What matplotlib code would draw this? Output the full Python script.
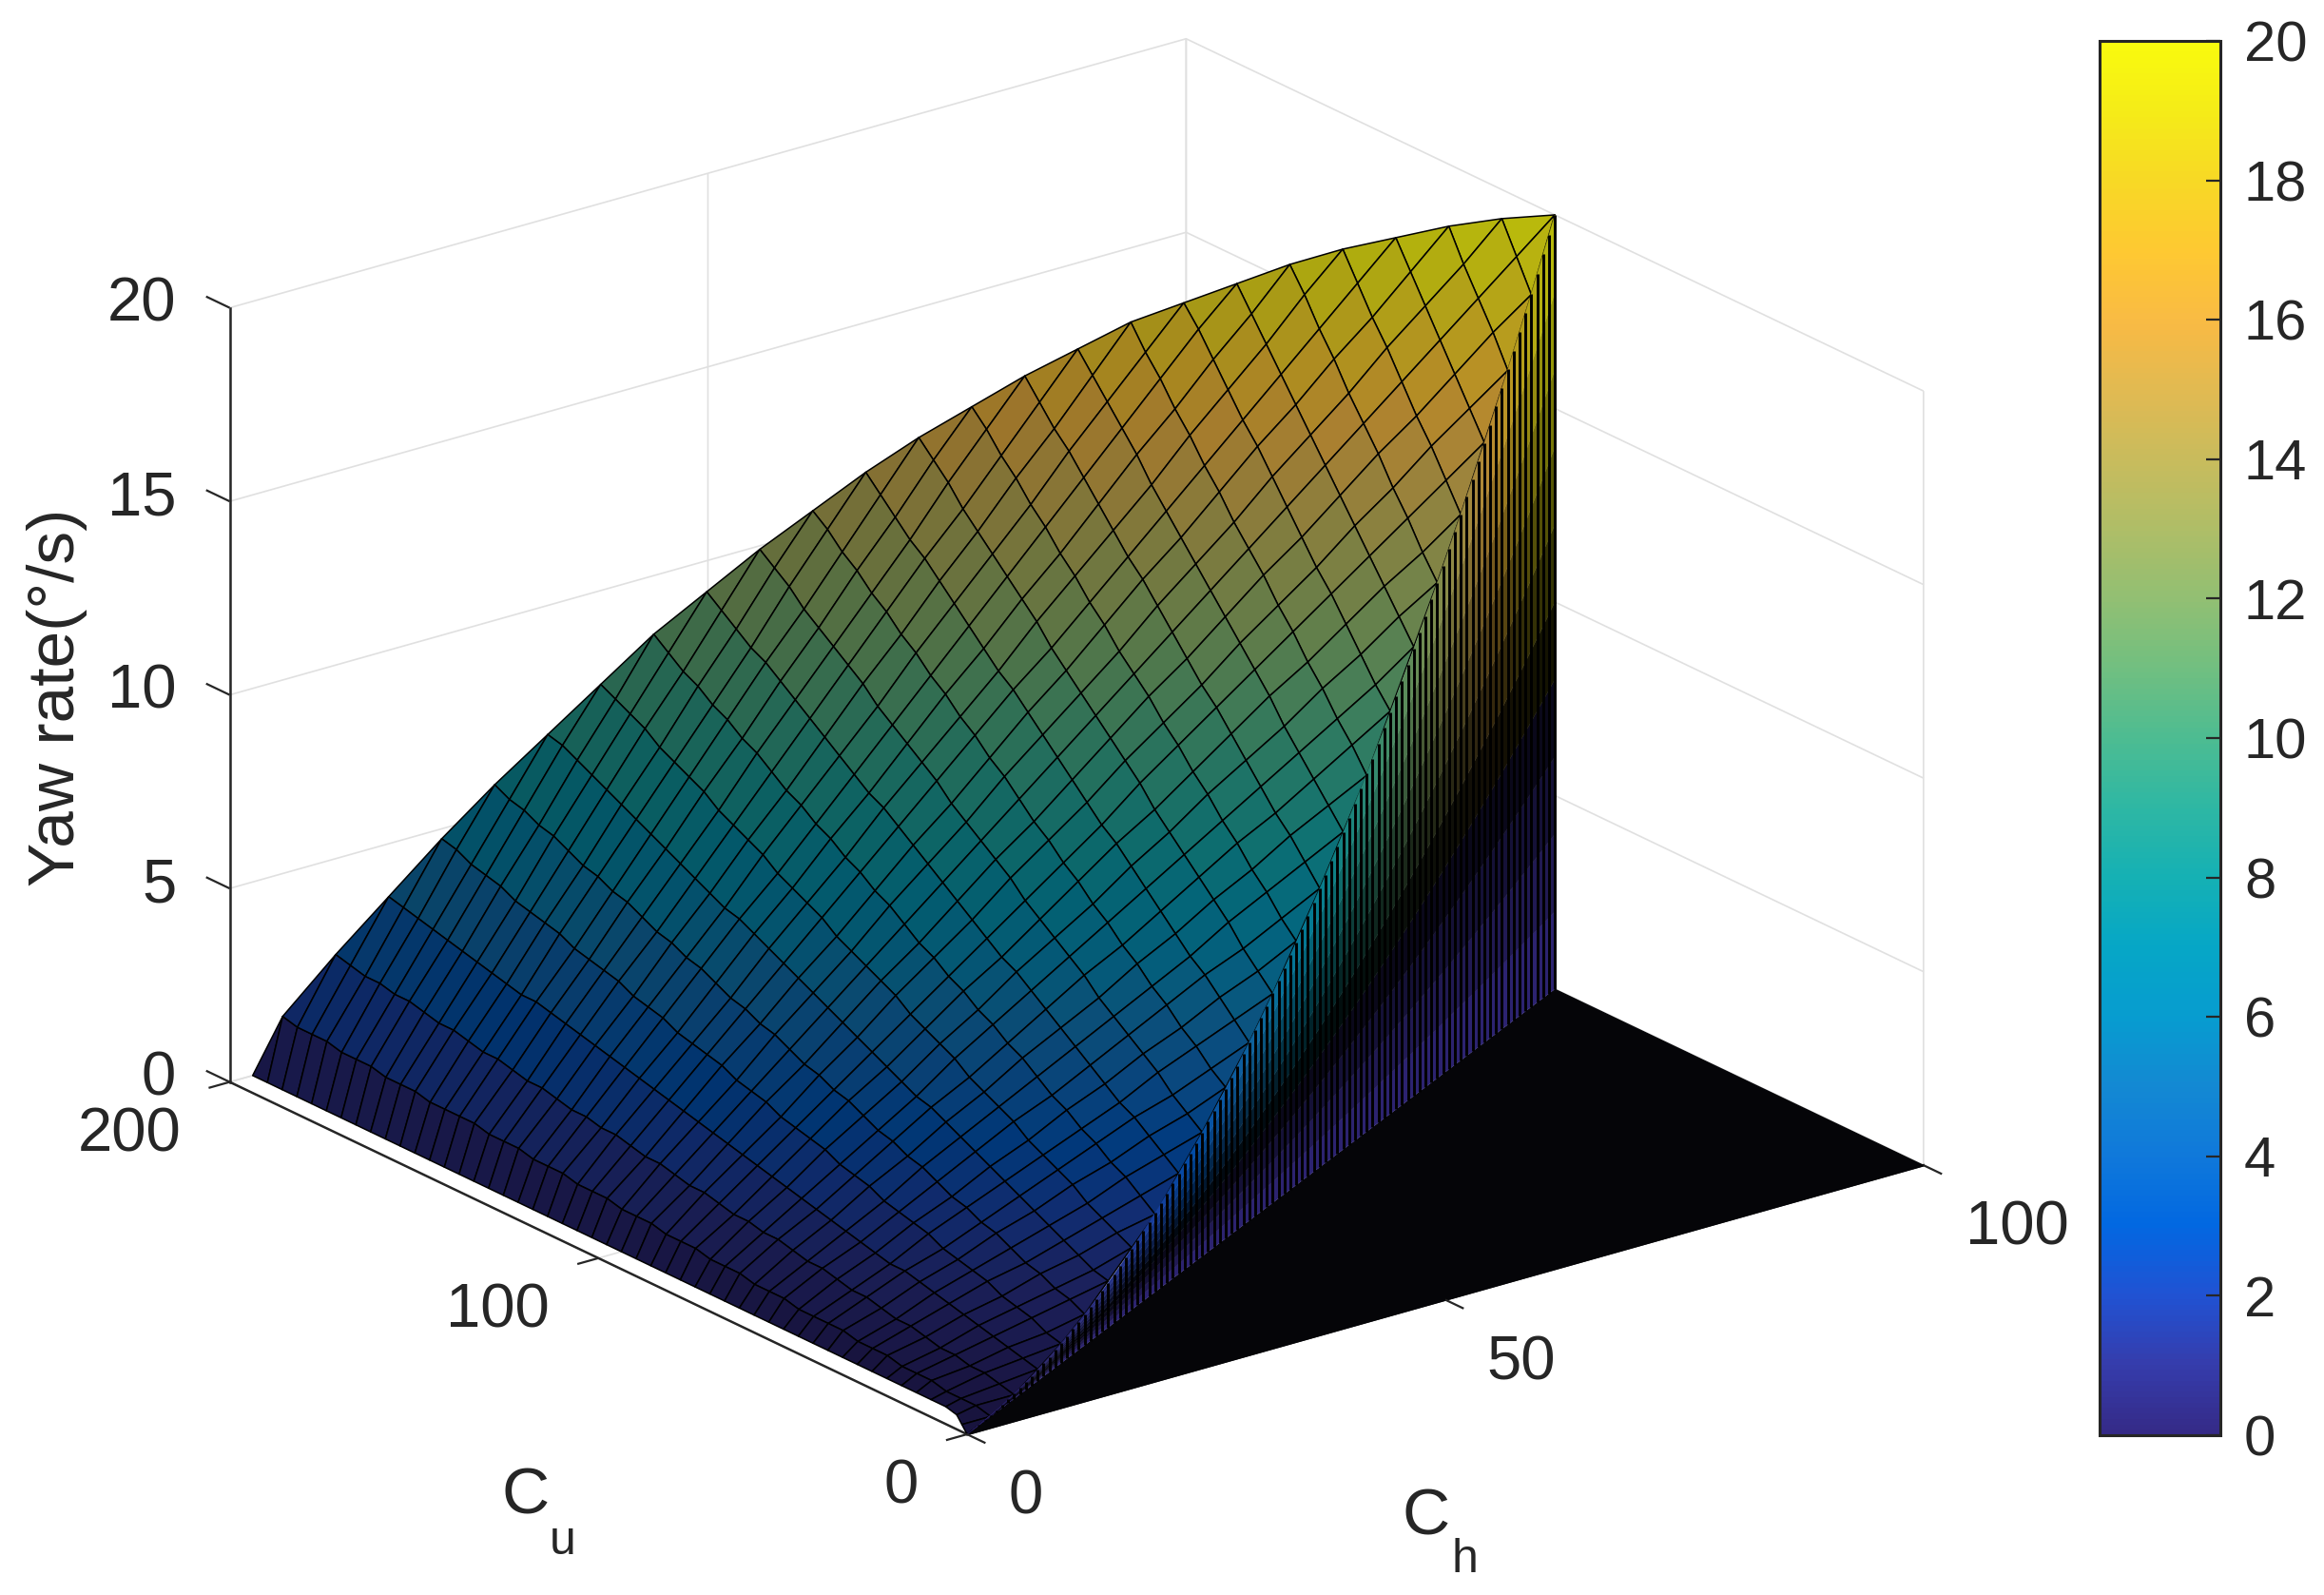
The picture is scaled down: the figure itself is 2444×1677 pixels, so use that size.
import matplotlib
matplotlib.use("Agg")
import matplotlib.pyplot as plt
from matplotlib.cm import ScalarMappable
from matplotlib.colors import LinearSegmentedColormap, Normalize
from mpl_toolkits.mplot3d import proj3d
from mpl_toolkits.mplot3d.art3d import Poly3DCollection, Line3DCollection

plt.rcParams["font.family"] = ["Liberation Sans", "DejaVu Sans"]

ch_ticks = [0, 50, 100]
cu_ticks = [0, 100, 200]
z_ticks = [0, 5, 10, 15, 20]
cbar_ticks = [0, 2, 4, 6, 8, 10, 12, 14, 16, 18, 20]

# Ch = 0, 4, ... 100 and Cu = 0, 4, ... 200, each row starts at Cu = Ch and stops at Cu = 200 - Ch
ch_values = list(range(0, 101, 4))
cu_values = list(range(0, 201, 4))
# the lowest row sits a little inside the Cu axis
edge_ch = [0, 1, 2] + [2.4] * 48
yaw_rows = [
    [0.0] * 51,
    [0.0, 0.1, 0.1, 0.1, 0.2, 0.2, 0.2, 0.3, 0.3, 0.3, 0.4, 0.4, 0.4, 0.4, 0.5, 0.5, 0.5, 0.6, 0.6, 0.6, 0.7, 0.7, 0.7, 0.8, 0.8, 0.8, 0.9, 0.9, 0.9, 1.0, 1.0, 1.0, 1.1, 1.1, 1.1, 1.2, 1.2, 1.2, 1.2, 1.3, 1.3, 1.3, 1.4, 1.4, 1.4, 1.5, 1.5, 1.5, 1.6],
    [0.1, 0.2, 0.3, 0.3, 0.4, 0.4, 0.5, 0.6, 0.6, 0.7, 0.8, 0.8, 0.9, 1.0, 1.0, 1.1, 1.2, 1.2, 1.3, 1.3, 1.4, 1.5, 1.5, 1.6, 1.7, 1.7, 1.8, 1.9, 1.9, 2.0, 2.0, 2.1, 2.2, 2.2, 2.3, 2.4, 2.4, 2.5, 2.6, 2.6, 2.7, 2.8, 2.8, 2.9, 2.9, 3.0, 3.1],
    [0.3, 0.4, 0.5, 0.6, 0.7, 0.8, 0.9, 1.0, 1.1, 1.2, 1.2, 1.3, 1.4, 1.5, 1.6, 1.7, 1.8, 1.9, 2.0, 2.1, 2.2, 2.3, 2.4, 2.5, 2.6, 2.7, 2.8, 2.9, 3.0, 3.1, 3.2, 3.3, 3.4, 3.5, 3.6, 3.6, 3.7, 3.8, 3.9, 4.0, 4.1, 4.2, 4.3, 4.4, 4.5],
    [0.5, 0.6, 0.8, 0.9, 1.0, 1.2, 1.3, 1.4, 1.5, 1.7, 1.8, 1.9, 2.0, 2.2, 2.3, 2.4, 2.6, 2.7, 2.8, 2.9, 3.1, 3.2, 3.3, 3.5, 3.6, 3.7, 3.8, 4.0, 4.1, 4.2, 4.4, 4.5, 4.6, 4.7, 4.9, 5.0, 5.1, 5.2, 5.4, 5.5, 5.6, 5.8, 5.9],
    [0.8, 1.0, 1.1, 1.3, 1.4, 1.6, 1.8, 1.9, 2.1, 2.2, 2.4, 2.6, 2.7, 2.9, 3.0, 3.2, 3.4, 3.5, 3.7, 3.8, 4.0, 4.2, 4.3, 4.5, 4.6, 4.8, 5.0, 5.1, 5.3, 5.4, 5.6, 5.8, 5.9, 6.1, 6.2, 6.4, 6.6, 6.7, 6.9, 7.0, 7.2],
    [1.2, 1.3, 1.5, 1.7, 1.9, 2.1, 2.3, 2.5, 2.7, 2.9, 3.1, 3.3, 3.5, 3.6, 3.8, 4.0, 4.2, 4.4, 4.6, 4.8, 5.0, 5.2, 5.4, 5.6, 5.8, 6.0, 6.1, 6.3, 6.5, 6.7, 6.9, 7.1, 7.3, 7.5, 7.7, 7.9, 8.1, 8.3, 8.4],
    [1.6, 1.8, 2.0, 2.2, 2.5, 2.7, 2.9, 3.1, 3.4, 3.6, 3.8, 4.0, 4.3, 4.5, 4.7, 4.9, 5.2, 5.4, 5.6, 5.8, 6.0, 6.3, 6.5, 6.7, 6.9, 7.2, 7.4, 7.6, 7.8, 8.1, 8.3, 8.5, 8.7, 9.0, 9.2, 9.4, 9.6],
    [2.0, 2.3, 2.6, 2.8, 3.1, 3.3, 3.6, 3.8, 4.1, 4.4, 4.6, 4.9, 5.1, 5.4, 5.6, 5.9, 6.1, 6.4, 6.7, 6.9, 7.2, 7.4, 7.7, 7.9, 8.2, 8.4, 8.7, 9.0, 9.2, 9.5, 9.7, 10.0, 10.2, 10.5, 10.8],
    [2.6, 2.9, 3.2, 3.5, 3.7, 4.0, 4.3, 4.6, 4.9, 5.2, 5.5, 5.8, 6.0, 6.3, 6.6, 6.9, 7.2, 7.5, 7.8, 8.1, 8.4, 8.6, 8.9, 9.2, 9.5, 9.8, 10.1, 10.4, 10.7, 10.9, 11.2, 11.5, 11.8],
    [3.2, 3.5, 3.8, 4.2, 4.5, 4.8, 5.1, 5.4, 5.8, 6.1, 6.4, 6.7, 7.0, 7.4, 7.7, 8.0, 8.3, 8.6, 9.0, 9.3, 9.6, 9.9, 10.2, 10.6, 10.9, 11.2, 11.5, 11.8, 12.2, 12.5, 12.8],
    [3.9, 4.2, 4.6, 4.9, 5.3, 5.6, 6.0, 6.3, 6.7, 7.0, 7.4, 7.7, 8.1, 8.4, 8.8, 9.2, 9.5, 9.9, 10.2, 10.6, 10.9, 11.3, 11.6, 12.0, 12.3, 12.7, 13.0, 13.4, 13.7],
    [4.6, 5.0, 5.4, 5.8, 6.1, 6.5, 6.9, 7.3, 7.7, 8.1, 8.4, 8.8, 9.2, 9.6, 10.0, 10.4, 10.8, 11.1, 11.5, 11.9, 12.3, 12.7, 13.1, 13.4, 13.8, 14.2, 14.6],
    [5.4, 5.8, 6.2, 6.7, 7.1, 7.5, 7.9, 8.3, 8.7, 9.2, 9.6, 10.0, 10.4, 10.8, 11.2, 11.6, 12.1, 12.5, 12.9, 13.3, 13.7, 14.1, 14.6, 15.0, 15.4],
    [6.3, 6.7, 7.2, 7.6, 8.1, 8.5, 9.0, 9.4, 9.9, 10.3, 10.8, 11.2, 11.6, 12.1, 12.5, 13.0, 13.4, 13.9, 14.3, 14.8, 15.2, 15.7, 16.1],
    [7.2, 7.7, 8.2, 8.6, 9.1, 9.6, 10.1, 10.6, 11.0, 11.5, 12.0, 12.5, 13.0, 13.4, 13.9, 14.4, 14.9, 15.4, 15.8, 16.3, 16.8],
    [8.2, 8.7, 9.2, 9.7, 10.2, 10.8, 11.3, 11.8, 12.3, 12.8, 13.3, 13.8, 14.3, 14.8, 15.4, 15.9, 16.4, 16.9, 17.4],
    [9.2, 9.8, 10.3, 10.9, 11.4, 12.0, 12.5, 13.1, 13.6, 14.1, 14.7, 15.2, 15.8, 16.3, 16.9, 17.4, 18.0],
    [10.4, 10.9, 11.5, 12.1, 12.7, 13.2, 13.8, 14.4, 15.0, 15.6, 16.1, 16.7, 17.3, 17.9, 18.4],
    [11.6, 12.2, 12.8, 13.4, 14.0, 14.6, 15.2, 15.8, 16.4, 17.0, 17.6, 18.2, 18.8],
    [12.8, 13.4, 14.1, 14.7, 15.4, 16.0, 16.6, 17.3, 17.9, 18.6, 19.2],
    [14.1, 14.8, 15.5, 16.1, 16.8, 17.5, 18.1, 18.8, 19.5],
    [15.5, 16.2, 16.9, 17.6, 18.3, 19.0, 19.7],
    [16.9, 17.7, 18.4, 19.1, 19.9],
    [18.4, 19.2, 20.0],
    [20.0],
]

# height of the step along Cu = Ch, for Ch = 0, 1, ... 100
step_ch = list(range(0, 101))
step_top = [
    0, 0, 0.01, 0.02, 0.03, 0.05, 0.07, 0.1, 0.13, 0.16,
    0.2, 0.24, 0.29, 0.34, 0.39, 0.45, 0.51, 0.58, 0.65, 0.72,
    0.8, 0.88, 0.97, 1.06, 1.15, 1.25, 1.35, 1.46, 1.57, 1.68,
    1.8, 1.92, 2.05, 2.18, 2.31, 2.45, 2.59, 2.74, 2.89, 3.04,
    3.2, 3.36, 3.53, 3.7, 3.87, 4.05, 4.23, 4.42, 4.61, 4.8,
    5.0, 5.2, 5.41, 5.62, 5.83, 6.05, 6.27, 6.5, 6.73, 6.96,
    7.2, 7.44, 7.69, 7.94, 8.19, 8.45, 8.71, 8.98, 9.25, 9.52,
    9.8, 10.08, 10.37, 10.66, 10.95, 11.25, 11.55, 11.86, 12.17, 12.48,
    12.8, 13.12, 13.45, 13.78, 14.11, 14.45, 14.79, 15.14, 15.49, 15.84,
    16.2, 16.56, 16.93, 17.3, 17.67, 18.05, 18.43, 18.82, 19.21, 19.6,
    20.0,
]

parula_colors = [
    (0.2081, 0.1663, 0.5292), (0.2081, 0.2386, 0.6771), (0.1253, 0.3242, 0.8303),
    (0.0060, 0.4086, 0.8828), (0.0629, 0.4737, 0.8554), (0.0749, 0.5375, 0.8263),
    (0.0265, 0.6137, 0.8135), (0.0228, 0.6535, 0.7768), (0.0843, 0.6928, 0.7062),
    (0.1801, 0.7177, 0.6424), (0.3022, 0.7376, 0.5712), (0.4420, 0.7481, 0.5033),
    (0.5709, 0.7485, 0.4494), (0.6834, 0.7435, 0.4044), (0.7858, 0.7356, 0.3633),
    (0.8824, 0.7274, 0.3217), (0.9739, 0.7314, 0.2666), (0.9955, 0.7861, 0.1967),
    (0.9697, 0.8481, 0.1475), (0.9598, 0.9218, 0.0948), (0.9763, 0.9831, 0.0538),
]
parula = LinearSegmentedColormap.from_list("parula", parula_colors, N=256)
norm = Normalize(0, 20)
ink = (0.15, 0.15, 0.15)


def shade(value, factor):
    r, g, b, _ = parula(norm(value))
    return (r * factor, g * factor, b * factor, 1)


def yaw_at(i, j):
    if j < i or j > len(cu_values) - 1 - i or i >= len(ch_values):
        return None
    return yaw_rows[i][j - i]


fig = plt.figure(figsize=(24.44, 16.77), dpi=100)
ax = fig.add_axes([0.1, 0.1, 0.6, 0.6], projection="3d", proj_type="ortho", computed_zorder=False)
ax.set_box_aspect((1268, 1274, 875))
ax.view_init(elev=21.5, azim=-127.5)
ax.set_xlim(ch_ticks[0], ch_ticks[-1])
ax.set_ylim(cu_ticks[0], cu_ticks[-1])
ax.set_zlim(z_ticks[0], z_ticks[-1])

# flat part on the floor, Cu < Ch
floor = [[(ch_ticks[0], cu_ticks[0], 0), (ch_ticks[-1], cu_ticks[0], 0), (ch_ticks[-1], ch_ticks[-1], 0)]]
ax.add_collection3d(Poly3DCollection(floor, facecolors=(0.02, 0.02, 0.03), edgecolors=(0.02, 0.02, 0.03), zorder=2))

# surface mesh, the fine black mesh of the original darkens it most at low Ch
polys = []
colors = []
for i in range(len(ch_values) - 1):
    for j in range(len(cu_values) - 1):
        corners = []
        for a, b in [(i, j), (i + 1, j), (i + 1, j + 1), (i, j + 1)]:
            z = yaw_at(a, b)
            if z is not None:
                ch = edge_ch[b] if a == 0 else ch_values[a]
                corners.append((ch, cu_values[b], z))
        if len(corners) >= 3:
            polys.append(corners)
            dim = 0.46 + 0.3 * ch_values[i] / ch_ticks[-1]
            colors.append(shade(sum(c[2] for c in corners) / len(corners), dim))
ax.add_collection3d(Poly3DCollection(polys, facecolors=colors, edgecolors="k", linewidths=1.1, zorder=3))

# step along Cu = Ch: colour fades from the top to black, then purple near the floor
wall_polys = []
wall_colors = []
wall_lines = []
n_slices = 10
for k in range(len(step_ch) - 1):
    c0, c1 = step_ch[k], step_ch[k + 1]
    z0, z1 = step_top[k], step_top[k + 1]
    wall_lines.append([(c1, c1, 0), (c1, c1, z1)])
    for s in range(n_slices):
        f0, f1 = s / n_slices, (s + 1) / n_slices
        wall_polys.append([(c0, c0, z0 * f0), (c1, c1, z1 * f0), (c1, c1, z1 * f1), (c0, c0, z0 * f1)])
        fm = (f0 + f1) / 2
        if fm > 0.42:
            wall_colors.append(shade(z1, 0.04 + 0.76 * (fm - 0.42) / 0.58))
        else:
            wall_colors.append(shade(0, 0.04 + 0.9 * (0.42 - fm) / 0.42))
ax.add_collection3d(Poly3DCollection(wall_polys, facecolors=wall_colors, edgecolors=wall_colors, linewidths=0.3, zorder=4))
ax.add_collection3d(Line3DCollection(wall_lines, colors="k", linewidths=2.1, zorder=5))

# axes look
ax.set_xticks(ch_ticks)
ax.set_yticks(cu_ticks)
ax.set_zticks(z_ticks)
for axis in (ax.xaxis, ax.yaxis, ax.zaxis):
    axis.set_pane_color((1, 1, 1, 0))
    axis.pane.set_edgecolor((0.87, 0.87, 0.87))
    axis.line.set_color(ink)
    axis.line.set_linewidth(1.8)
    axis._axinfo["grid"].update(color=(0.88, 0.88, 0.88), linewidth=1.2)
    axis._axinfo["tick"].update(inward_factor=0.0, outward_factor=0.0)
ax.tick_params(labelsize=47, labelcolor=ink, colors=ink)
ax.tick_params(axis="x", pad=33)
ax.tick_params(axis="y", pad=29)
ax.tick_params(axis="z", pad=15)
for t in ax.xaxis.get_major_ticks():
    t.label1.set_ha("left")
    t.label1.set_va("center")
for t in ax.yaxis.get_major_ticks():
    t.label1.set_ha("right")
    t.label1.set_va("center")
for t in ax.zaxis.get_major_ticks():
    t.label1.set_ha("right")
    t.label1.set_va("center")

# tick marks point along the neighbouring axis, as in the original
tick_lines = []
for v in ch_ticks:
    tick_lines.append([(v, 0, 0), (v, -5, 0)])
for v in cu_ticks:
    tick_lines.append([(0, v, 0), (-2.2, v, 0)])
for v in z_ticks:
    tick_lines.append([(0, cu_ticks[-1], v), (0, cu_ticks[-1] + 6.4, v)])
ax.add_collection3d(Line3DCollection(tick_lines, colors=[ink], linewidths=1.6, zorder=6), autolim=False)

# fit the box to the figure: front corner and z height in pixels
fig.canvas.draw()
ax.apply_aspect()


def corner_px(x, y, z):
    xp, yp, _ = proj3d.proj_transform(x, y, z, ax.get_proj())
    return ax.transData.transform((xp, yp))


bottom = corner_px(0, 0, 0)
top = corner_px(0, 0, 20)
scale = 814 / (top[1] - bottom[1])
pos = ax.get_position()
fig_w, fig_h = fig.get_size_inches() * fig.dpi
ll_x = 1017 - (bottom[0] - pos.x0 * fig_w) * scale
ll_y = (1677 - 1508) - (bottom[1] - pos.y0 * fig_h) * scale
ax.set_position([ll_x / fig_w, ll_y / fig_h, pos.width * scale, pos.height * scale])

# colorbar
cax = fig.add_axes([2208 / 2444, (1677 - 1509) / 1677, 127 / 2444, 1466 / 1677])
cb = fig.colorbar(ScalarMappable(norm=norm, cmap=parula), cax=cax, ticks=cbar_ticks)
cb.ax.tick_params(direction="in", length=11, width=1.6, colors=ink, labelsize=43, pad=18)
cb.outline.set_edgecolor(ink)
cb.outline.set_linewidth(2.2)

fig.text(60 / 2444, 1 - 733 / 1677, "Yaw rate(°/s)", rotation=90, ha="center", va="center", fontsize=50, color=ink)
fig.text(553 / 2444, 1 - 1574 / 1677, "C", ha="center", va="center", fontsize=50, color=ink)
fig.text(592 / 2444, 1 - 1621 / 1677, "u", ha="center", va="center", fontsize=36, color=ink)
fig.text(1500 / 2444, 1 - 1595 / 1677, "C", ha="center", va="center", fontsize=50, color=ink)
fig.text(1540 / 2444, 1 - 1640 / 1677, "h", ha="center", va="center", fontsize=36, color=ink)

fig.savefig("out.png", dpi=100)
